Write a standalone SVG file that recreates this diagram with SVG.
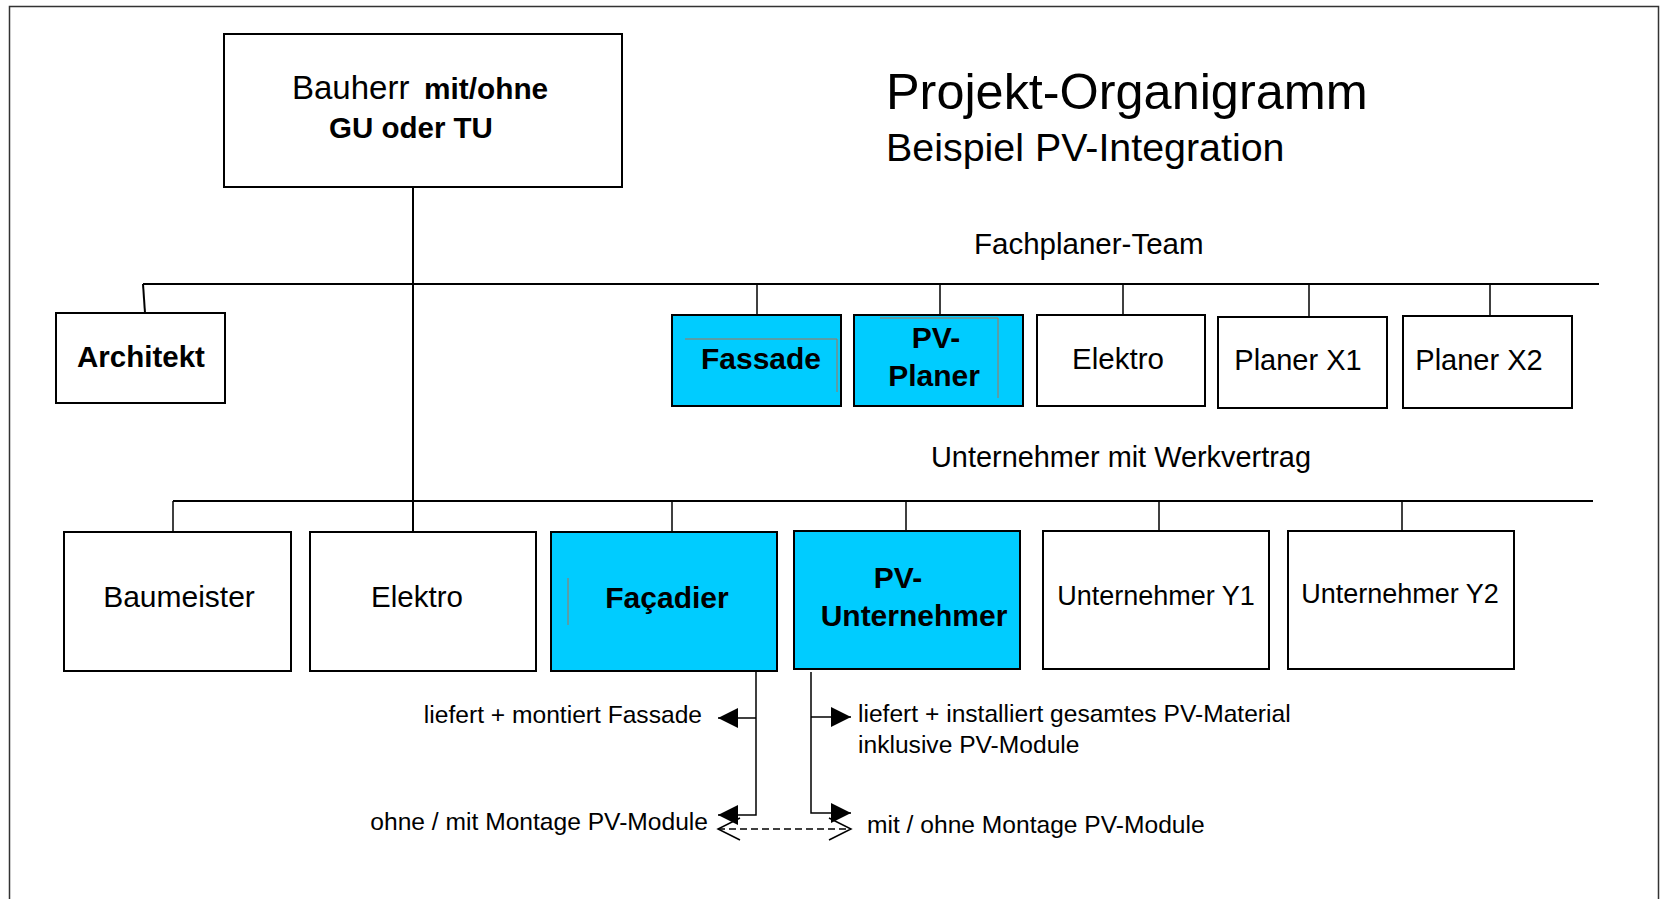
<svg xmlns="http://www.w3.org/2000/svg" width="1662" height="899" viewBox="0 0 1662 899">
<defs>
<style>
.box{fill:#fff;stroke:#000;stroke-width:2}
.blue{fill:#00ccff;stroke:#000;stroke-width:2}
.ln{stroke:#000;stroke-width:2;fill:none}
.thin{stroke:#000;stroke-width:1.5;fill:none}
.art{stroke:#b07050;stroke-width:1;fill:none}
text{font-family:"Liberation Sans",Arial,sans-serif;fill:#000}
.t{font-size:29.5px;text-anchor:middle}
.b{font-size:30px;font-weight:bold;text-anchor:middle}
.s{font-size:24.6px}
</style>
<marker id="fa" markerUnits="userSpaceOnUse" markerWidth="22" markerHeight="22" refX="20" refY="10" orient="auto">
<path d="M0,0 L20,10 L0,20 Z" fill="#000"/>
</marker>
<marker id="oa" markerUnits="userSpaceOnUse" markerWidth="26" markerHeight="26" refX="23" refY="12" orient="auto-start-reverse">
<path d="M1,1 L23,12 L1,23" fill="none" stroke="#000" stroke-width="1.5"/>
</marker>
</defs>
<rect x="9.5" y="6.5" width="1649" height="910" fill="#fff" stroke="#333" stroke-width="1.5"/>

<g id="title">
<text x="886" y="109" style="font-size:50.4px">Projekt-Organigramm</text>
<text x="886" y="161" style="font-size:39.4px">Beispiel PV-Integration</text>
<text x="974" y="254" style="font-size:29.5px">Fachplaner-Team</text>
<text x="931" y="467" style="font-size:28.9px">Unternehmer mit Werkvertrag</text>
</g>

<g id="connectors">
<line class="ln" x1="413" y1="187" x2="413" y2="532"/>
<line class="ln" x1="143" y1="284" x2="1599" y2="284"/>
<line class="ln" x1="143" y1="284" x2="145" y2="313"/>
<line class="thin" x1="757" y1="284" x2="757" y2="315"/>
<line class="thin" x1="940" y1="284" x2="940" y2="315"/>
<line class="thin" x1="1123" y1="284" x2="1123" y2="315"/>
<line class="thin" x1="1309" y1="284" x2="1309" y2="317"/>
<line class="thin" x1="1490" y1="284" x2="1490" y2="316"/>
<line class="ln" x1="173" y1="501" x2="1593" y2="501"/>
<line class="thin" x1="173" y1="501" x2="173" y2="532"/>
<line class="thin" x1="672" y1="501" x2="672" y2="532"/>
<line class="thin" x1="906" y1="501" x2="906" y2="531"/>
<line class="thin" x1="1159" y1="501" x2="1159" y2="531"/>
<line class="thin" x1="1402" y1="501" x2="1402" y2="531"/>
<path class="thin" d="M756,671 V815 H718" marker-end="url(#fa)"/>
<path class="thin" d="M756,718 H718" marker-end="url(#fa)"/>
<path class="thin" d="M811,672 V813 H851" marker-end="url(#fa)"/>
<path class="thin" d="M811,717 H851" marker-end="url(#fa)"/>
<line class="thin" x1="718" y1="829" x2="851" y2="829" stroke-dasharray="7,4" marker-start="url(#oa)" marker-end="url(#oa)"/>
</g>

<g id="bauherr">
<rect class="box" x="224" y="34" width="398" height="153"/>
<text x="292" y="99"><tspan style="font-size:33px">Bauherr</tspan><tspan x="424" style="font-size:29.8px;font-weight:bold">mit/ohne</tspan></text>
<text x="329" y="138" style="font-size:29.5px;font-weight:bold">GU oder TU</text>
</g>

<g id="architekt">
<rect class="box" x="56" y="313" width="169" height="90"/>
<text class="b" x="141" y="367" style="font-size:29.5px">Architekt</text>
</g>

<g id="fassade">
<rect class="blue" x="672" y="315" width="169" height="91"/>
<path class="art" d="M685,339 H837 V392"/>
<text class="b" x="761" y="369">Fassade</text>
</g>

<g id="pv-planer">
<rect class="blue" x="854" y="315" width="169" height="91"/>
<path class="art" d="M880,318 H998 V398"/>
<text class="b" x="936" y="348">PV-</text>
<text class="b" x="934" y="386">Planer</text>
</g>

<g id="elektro-planer">
<rect class="box" x="1037" y="315" width="168" height="91"/>
<text class="t" x="1118" y="369">Elektro</text>
</g>

<g id="planer-x1">
<rect class="box" x="1218" y="317" width="169" height="91"/>
<text class="t" x="1298" y="370" style="font-size:29px">Planer X1</text>
</g>

<g id="planer-x2">
<rect class="box" x="1403" y="316" width="169" height="92"/>
<text class="t" x="1479" y="370" style="font-size:29px">Planer X2</text>
</g>

<g id="baumeister">
<rect class="box" x="64" y="532" width="227" height="139"/>
<text class="t" x="179" y="607" style="font-size:30px">Baumeister</text>
</g>

<g id="elektro">
<rect class="box" x="310" y="532" width="226" height="139"/>
<text class="t" x="417" y="607">Elektro</text>
</g>

<g id="facadier">
<rect class="blue" x="551" y="532" width="226" height="139"/>
<line class="art" x1="568" y1="578" x2="568" y2="625"/>
<text class="b" x="667" y="608">Façadier</text>
</g>

<g id="pv-unternehmer">
<rect class="blue" x="794" y="531" width="226" height="138"/>
<text class="b" x="898" y="588">PV-</text>
<text class="b" x="914" y="626">Unternehmer</text>
</g>

<g id="unternehmer-y1">
<rect class="box" x="1043" y="531" width="226" height="138"/>
<text class="t" x="1156" y="605" style="font-size:27px">Unternehmer Y1</text>
</g>

<g id="unternehmer-y2">
<rect class="box" x="1288" y="531" width="226" height="138"/>
<text class="t" x="1400" y="603" style="font-size:27px">Unternehmer Y2</text>
</g>

<g id="labels">
<text class="s" x="702" y="723" text-anchor="end">liefert + montiert Fassade</text>
<text class="s" x="708" y="830" text-anchor="end">ohne / mit Montage PV-Module</text>
<text class="s" x="858" y="722">liefert + installiert gesamtes PV-Material</text>
<text class="s" x="858" y="753">inklusive PV-Module</text>
<text class="s" x="867" y="833">mit / ohne Montage PV-Module</text>
</g>
</svg>
